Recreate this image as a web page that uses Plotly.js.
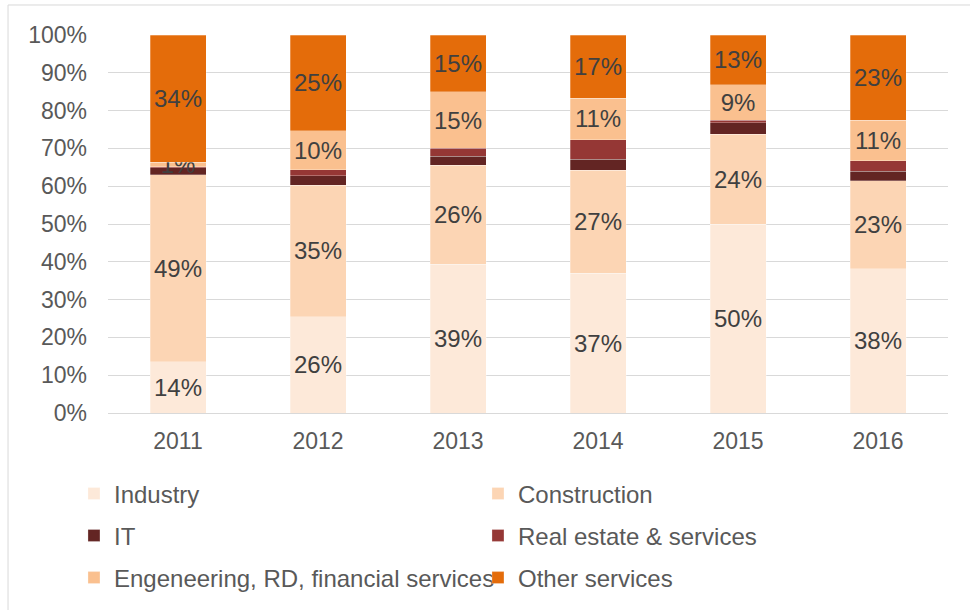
<!DOCTYPE html>
<html>
<head>
<meta charset="utf-8">
<script src="https://cdn.plot.ly/plotly-3.0.1.min.js"></script>
<style>
html,body{margin:0;padding:0;background:#fff;}
#chart{width:970px;height:610px;}
</style>
</head>
<body>
<div id="chart"></div>
<script>
var years = ['2011', '2012', '2013', '2014', '2015', '2016'];
var industry     = [13.6, 25.5, 39.4, 37.0, 49.9, 38.1];
var construction = [49.4, 34.8, 26.1, 27.2, 23.8, 23.3];
var it           = [1.9, 2.5, 2.4, 2.9, 3.1, 2.6];
var realEstate   = [0.3, 1.6, 2.1, 5.2, 0.7, 2.7];
var engineering  = [1.1, 10.3, 15.0, 11.0, 9.3, 10.7];
var otherServ    = [33.7, 25.3, 15.0, 16.7, 13.2, 22.6];
var yTickVals = [0, 10, 20, 30, 40, 50, 60, 70, 80, 90, 100];
var yTickText = ['0%', '10%', '20%', '30%', '40%', '50%', '60%', '70%', '80%', '90%', '100%'];

var FONT = '"Liberation Sans", Arial, sans-serif';

function series(name, vals, color, showLabels, legendId) {
  return {
    type: 'bar',
    name: name,
    x: years,
    y: vals,
    marker: {color: color, line: {color: 'rgba(255,255,255,0.45)', width: 0.6}},
    texttemplate: showLabels ? '%{y:.0f}%' : '',
    textposition: showLabels ? 'inside' : 'none',
    insidetextanchor: 'middle',
    constraintext: 'none',
    textangle: 0,
    textfont: {family: FONT, size: 24, color: '#404040'},
    legend: legendId,
    hoverinfo: 'x+y+name'
  };
}

var data = [
  series('Industry', industry, '#FDE9D9', true, 'legend'),
  series('Construction', construction, '#FCD5B4', true, 'legend'),
  series('IT', it, '#632523', false, 'legend2'),
  series('Real estate &amp; services', realEstate, '#953735', false, 'legend2'),
  series('Engeneering, RD, financial services', engineering, '#FAC08F', true, 'legend3'),
  series('Other services', otherServ, '#E46C0A', true, 'legend3')
];

function leg(y) {
  return {
    orientation: 'h',
    x: -0.0405, xanchor: 'left',
    y: y, yanchor: 'middle',
    entrywidth: 359, entrywidthmode: 'pixels',
    font: {family: FONT, size: 24, color: '#595959'},
    bgcolor: 'rgba(0,0,0,0)',
    traceorder: 'normal',
    itemclick: false, itemdoubleclick: false
  };
}

var layout = {
  width: 970, height: 610,
  margin: {l: 108, r: 22, t: 35, b: 197, autoexpand: false},
  paper_bgcolor: '#ffffff',
  plot_bgcolor: '#ffffff',
  barmode: 'stack',
  bargap: 0.6,
  font: {family: FONT, color: '#595959'},
  xaxis: {
    type: 'category',
    tickfont: {family: FONT, size: 23, color: '#595959'},
    showgrid: false,
    showline: true, linecolor: '#D9D9D9', linewidth: 1,
    ticks: '',
    ticklabelstandoff: 7,
    automargin: false,
    fixedrange: true
  },
  yaxis: {
    range: [0, 100],
    tickvals: yTickVals,
    ticktext: yTickText,
    tickfont: {family: FONT, size: 23, color: '#595959'},
    showgrid: true, gridcolor: '#D9D9D9', gridwidth: 1,
    zeroline: false,
    showline: false,
    ticks: '',
    ticklabelstandoff: 20,
    automargin: false,
    fixedrange: true
  },
  showlegend: true,
  legend: leg(-0.214),
  legend2: leg(-0.325),
  legend3: leg(-0.4365),
  shapes: [{
    type: 'rect', xref: 'paper', yref: 'paper',
    x0: -0.119, x1: 1.06, y0: -0.62, y1: 1.0794,
    line: {color: '#D9D9D9', width: 1},
    fillcolor: 'rgba(0,0,0,0)',
    layer: 'below'
  }]
};

Plotly.newPlot('chart', data, layout, {displayModeBar: false, staticPlot: true});
</script>
</body>
</html>
